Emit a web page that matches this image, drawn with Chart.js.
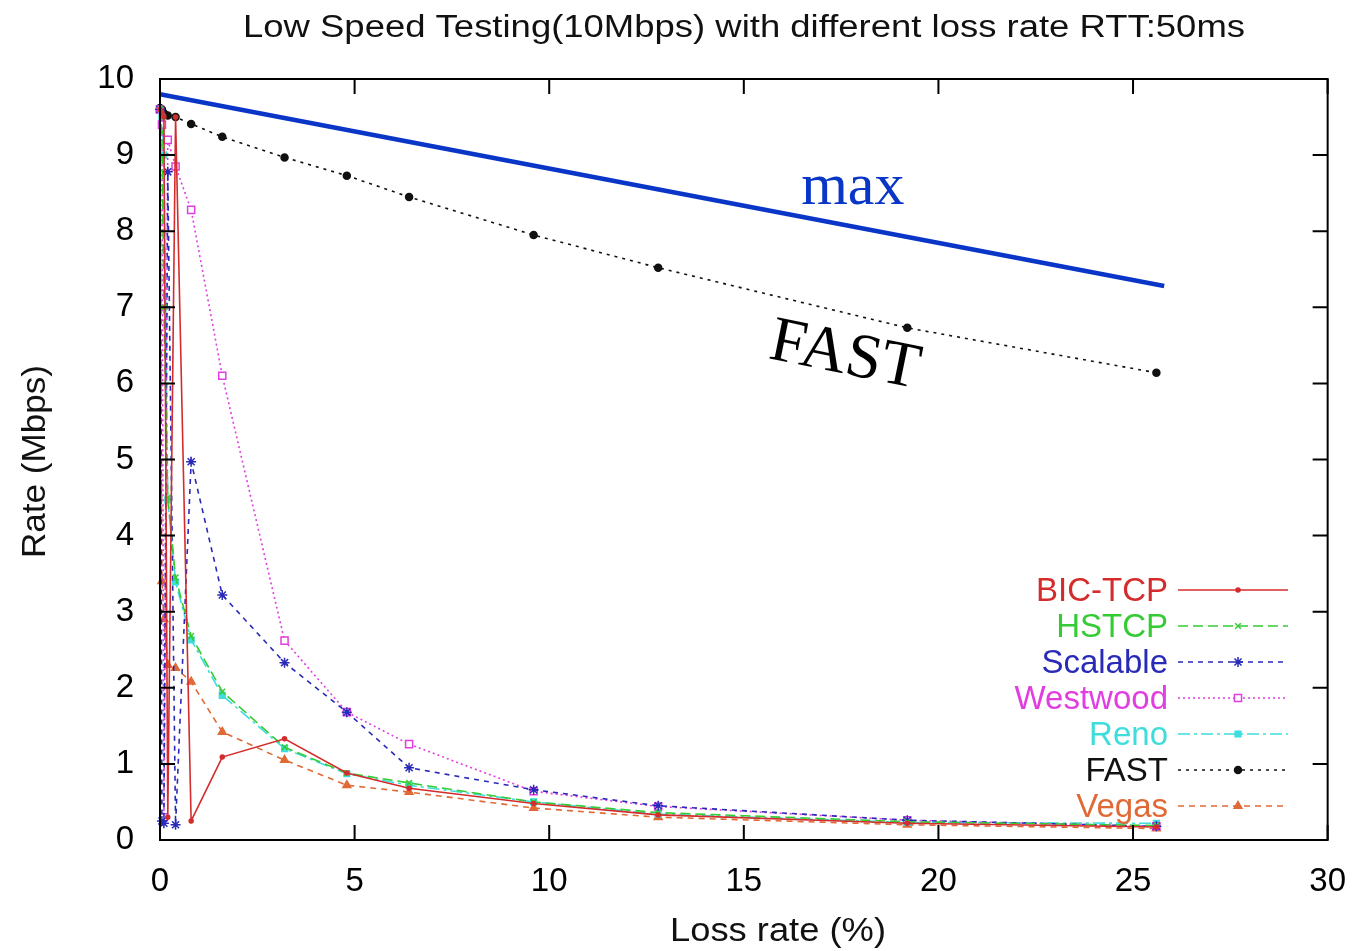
<!DOCTYPE html>
<html>
<head>
<meta charset="utf-8">
<title>Low Speed Testing(10Mbps) with different loss rate RTT:50ms</title>
<script src="https://cdn.jsdelivr.net/npm/chart.js@4/dist/chart.umd.min.js"></script>
<style>
  html, body { margin: 0; padding: 0; background: #fff; }
  canvas { display: block; }
</style>
</head>
<body>
<canvas id="lossChart" width="1360" height="951"></canvas>
<script>
// loss rate (%) for every run, rate in Mbps per protocol
const lossRates = [0, 0.05, 0.1, 0.2, 0.4, 0.8, 1.6, 3.2, 4.8, 6.4, 9.6, 12.8, 19.2, 25.6];
const bicTcp   = [9.6, 9.55, 9.5, 0.3, 9.5, 0.25, 1.09, 1.33, 0.88, 0.68, 0.48, 0.33, 0.22, 0.17];
const hstcp    = [9.6, 9.3, 7.0, 4.5, 3.45, 2.68, 1.95, 1.22, 0.88, 0.75, 0.5, 0.36, 0.24, 0.19];
const scalable = [9.6, 0.25, 0.22, 8.78, 0.2, 4.97, 3.22, 2.33, 1.68, 0.95, 0.66, 0.45, 0.26, 0.18];
const westwood = [9.6, 9.4, 0.3, 9.2, 8.85, 8.28, 6.1, 2.62, 1.68, 1.26, 0.64, 0.44, 0.26, 0.18];
const reno     = [9.6, 9.5, 9.0, 4.47, 3.39, 2.63, 1.9, 1.2, 0.87, 0.72, 0.5, 0.34, 0.23, 0.22];
const fast     = [9.62, 9.6, 9.55, 9.52, 9.5, 9.41, 9.24, 8.97, 8.73, 8.45, 7.95, 7.52, 6.73, 6.14];
const vegas    = [9.6, 3.4, 2.9, 2.3, 2.26, 2.08, 1.42, 1.05, 0.72, 0.63, 0.42, 0.3, 0.2, 0.15];

// the hand drawn "max" line
const maxX = [0, 25.8];
const maxY = [9.8, 7.28];

const xTickValues = [0, 5, 10, 15, 20, 25, 30];
const yTickValues = [0, 1, 2, 3, 4, 5, 6, 7, 8, 9, 10];

const SANS = '"Liberation Sans", Arial, Helvetica, sans-serif';
const SERIF = '"Liberation Serif", "Times New Roman", "DejaVu Serif", serif';

function points(xs, ys) {
    return xs.map((x, i) => ({ x: x, y: ys[i] }));
}

function series(label, values, color, dash, style, radius, fill) {
    return {
        label: label,
        data: points(lossRates, values),
        showLine: true,
        borderColor: color,
        backgroundColor: fill || color,
        pointBackgroundColor: fill || color,
        pointBorderColor: color,
        borderWidth: 1.6,
        borderDash: dash,
        pointStyle: style,
        pointRadius: radius,
        pointBorderWidth: 1.5,
        pointHoverRadius: radius,
        clip: false
    };
}

const datasets = [
    {
        label: 'max',
        data: points(maxX, maxY),
        showLine: true,
        borderColor: '#0a36c8',
        borderWidth: 4.5,
        pointRadius: 0,
        hideInLegend: true,
        clip: false
    },
    series('BIC-TCP', bicTcp, '#d42c2c', [], 'circle', 2),
    series('HSTCP', hstcp, '#34cc34', [10, 5], 'crossRot', 4),
    series('Scalable', scalable, '#2a2ab8', [5, 5], 'star', 5),
    series('Westwood', westwood, '#e03ee0', [2, 3], 'rect', 5, '#ffffff'),
    series('Reno', reno, '#3fdcdc', [12, 4, 3, 4], 'rect', 4),
    series('FAST', fast, '#111111', [3, 5], 'circle', 3.5),
    series('Vegas', vegas, '#e06a35', [6, 5], 'triangle', 4.5)
];

function fitText(ctx, text, x, y, width) {
    const w = ctx.measureText(text).width;
    ctx.save();
    ctx.translate(x, y);
    ctx.scale(width / w, 1);
    ctx.fillText(text, 0, 0);
    ctx.restore();
}

function drawLegend(chart) {
    const ctx = chart.ctx;
    const sets = chart.data.datasets.filter(d => !d.hideInLegend);
    ctx.save();
    ctx.font = '33px ' + SANS;
    ctx.textAlign = 'right';
    ctx.textBaseline = 'middle';
    sets.forEach((ds, i) => {
        const y = 590 + i * 36;
        ctx.fillStyle = ds.borderColor;
        ctx.fillText(ds.label, 1168, y + 2);
        ctx.strokeStyle = ds.borderColor;
        ctx.lineWidth = ds.borderWidth;
        ctx.setLineDash(ds.borderDash);
        ctx.beginPath();
        ctx.moveTo(1178, y);
        ctx.lineTo(1288, y);
        ctx.stroke();
        ctx.setLineDash([]);
        ctx.fillStyle = ds.pointBackgroundColor;
        ctx.strokeStyle = ds.borderColor;
        ctx.lineWidth = ds.pointBorderWidth;
        Chart.helpers.drawPoint(ctx, {
            pointStyle: ds.pointStyle,
            radius: ds.pointRadius,
            borderWidth: ds.pointBorderWidth,
            rotation: 0
        }, 1238, y);
    });
    ctx.restore();
}

const overlay = {
    id: 'overlay',
    afterDraw(chart) {
        const { ctx, chartArea: a, scales: { x, y } } = chart;
        ctx.save();

        // frame with gnuplot style inward ticks on all four sides
        ctx.strokeStyle = '#000';
        ctx.lineWidth = 2;
        ctx.strokeRect(a.left, a.top, a.right - a.left, a.bottom - a.top);
        ctx.beginPath();
        xTickValues.forEach(v => {
            const px = x.getPixelForValue(v);
            ctx.moveTo(px, a.bottom); ctx.lineTo(px, a.bottom - 15);
            ctx.moveTo(px, a.top); ctx.lineTo(px, a.top + 15);
        });
        yTickValues.forEach(v => {
            const py = y.getPixelForValue(v);
            ctx.moveTo(a.left, py); ctx.lineTo(a.left + 15, py);
            ctx.moveTo(a.right, py); ctx.lineTo(a.right - 15, py);
        });
        ctx.stroke();

        // title and axis titles
        ctx.fillStyle = '#111';
        ctx.textAlign = 'left';
        ctx.textBaseline = 'middle';
        ctx.font = '31px ' + SANS;
        fitText(ctx, 'Low Speed Testing(10Mbps) with different loss rate RTT:50ms', 243, 28, 1002);

        ctx.font = '33px ' + SANS;
        fitText(ctx, 'Loss rate (%)', 670, 932, 216);

        ctx.save();
        ctx.translate(36, 558);
        ctx.rotate(-Math.PI / 2);
        fitText(ctx, 'Rate (Mbps)', 0, 0, 193);
        ctx.restore();

        // hand written annotations
        ctx.textAlign = 'center';
        ctx.fillStyle = '#0a36c8';
        ctx.font = '60px ' + SERIF;
        ctx.fillText('max', x.getPixelForValue(17.8), y.getPixelForValue(8.57));

        ctx.save();
        ctx.fillStyle = '#000';
        ctx.font = '64px ' + SERIF;
        ctx.translate(x.getPixelForValue(17.6), y.getPixelForValue(6.35));
        ctx.rotate(11.5 * Math.PI / 180);
        ctx.fillText('FAST', 0, 0);
        ctx.restore();

        ctx.restore();
        drawLegend(chart);
    }
};

const ctx = document.getElementById('lossChart').getContext('2d');
new Chart(ctx, {
    type: 'scatter',
    data: { datasets: datasets },
    options: {
        responsive: false,
        animation: false,
        events: [],
        layout: { padding: { left: 0, top: 79, right: 24, bottom: 0 } },
        plugins: {
            legend: { display: false },
            tooltip: { enabled: false },
            title: { display: false }
        },
        scales: {
            x: {
                type: 'linear',
                min: 0,
                max: 30,
                grid: { display: false },
                border: { display: false },
                ticks: {
                    stepSize: 5,
                    color: '#000',
                    padding: 14,
                    maxRotation: 0,
                    font: { size: 33, family: SANS }
                },
                afterFit: s => { s.height = 111; }
            },
            y: {
                type: 'linear',
                min: 0,
                max: 10,
                grid: { display: false },
                border: { display: false },
                ticks: {
                    stepSize: 1,
                    color: '#000',
                    padding: 18,
                    font: { size: 33, family: SANS }
                },
                afterFit: s => { s.width = 160; }
            }
        }
    },
    plugins: [overlay]
});
</script>
</body>
</html>
